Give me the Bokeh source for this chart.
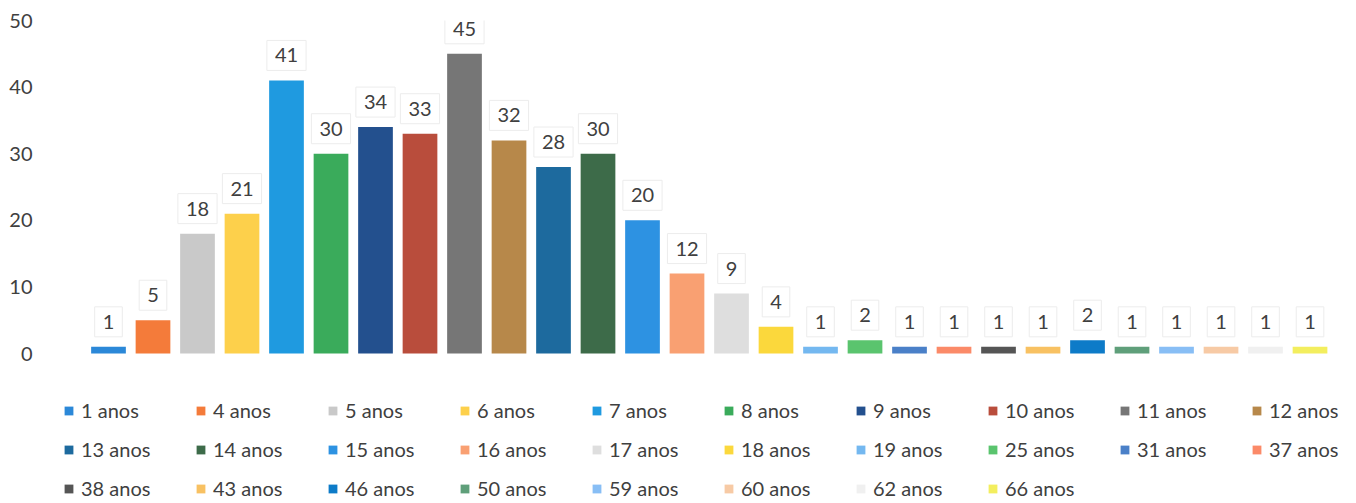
from bokeh.plotting import figure
from bokeh.models import (ColumnDataSource, Legend, LegendItem,
                          Range1d, FixedTicker)
from bokeh.core.properties import value
from bokeh.embed import file_html
from bokeh.resources import INLINE

categories = ["1 anos", "4 anos", "5 anos", "6 anos", "7 anos", "8 anos", "9 anos",
              "10 anos", "11 anos", "12 anos", "13 anos", "14 anos", "15 anos",
              "16 anos", "17 anos", "18 anos", "19 anos", "25 anos", "31 anos",
              "37 anos", "38 anos", "43 anos", "46 anos", "50 anos", "59 anos",
              "60 anos", "62 anos", "66 anos"]
counts = [1, 5, 18, 21, 41, 30, 34, 33, 45, 32, 28, 30, 20, 12, 9, 4, 1, 2,
          1, 1, 1, 1, 2, 1, 1, 1, 1, 1]
colors = ["#2b88d8", "#f47b3a", "#c9c9c9", "#fdd04b", "#1f9ae0", "#3aab5b", "#23508e",
          "#b94d3c", "#767676", "#b7884a", "#1d6a9e", "#3d6b49", "#2d92e2",
          "#f9a072", "#dedede", "#fbd83c", "#74b8f0", "#5ac46e", "#4a80c8",
          "#fb8a68", "#555555", "#f8c162", "#0d7bc8", "#5f9f7a", "#88bef5",
          "#f7caa5", "#f0f0f0", "#f3ee5e"]
y_ticks = [0, 10, 20, 30, 40, 50]

FONT = "Lato"
TXT = "#404040"
FS = "20px"

positions = list(range(len(categories)))
source = ColumnDataSource(dict(pos=positions, cat=categories, val=counts,
                               color=colors, lab=[str(v) for v in counts]))

# frame spans the lower area too, so the legend (drawn inside the frame) is not clipped
p = figure(width=1340, height=500, output_backend="svg", toolbar_location=None,
           x_range=Range1d(-1.528, 27.685), y_range=Range1d(-22.07, 50),
           min_border_left=40, min_border_right=0, min_border_top=20,
           min_border_bottom=0)
p.outline_line_color = None
p.xgrid.visible = False
p.ygrid.visible = False
p.xaxis.visible = False

ya = p.yaxis[0]
ya.ticker = FixedTicker(ticks=y_ticks)
ya.axis_line_color = None
ya.major_tick_line_color = None
ya.minor_tick_line_color = None
ya.major_tick_out = 0
ya.major_tick_in = 0
ya.major_label_standoff = 8
ya.major_label_text_font = FONT
ya.major_label_text_font_size = FS
ya.major_label_text_color = TXT

r = p.vbar(x="pos", top="val", bottom=0, width=0.78, source=source,
           fill_color="color", line_color=None)

p.text(x="pos", y="val", text="lab", source=source, y_offset=-25,
       text_align="center", text_baseline="middle",
       text_font=value(FONT), text_font_size=FS, text_color=TXT,
       background_fill_color="white", border_line_color="#ececec",
       padding=8)

items = [LegendItem(label=c, renderers=[r], index=i) for i, c in enumerate(categories)]
legend = Legend(items=items, location=(23, 0), orientation="horizontal", ncols=10,
                glyph_width=11, glyph_height=11, label_standoff=7,
                label_width=99, label_height=24, spacing=15, padding=0, margin=0,
                border_line_color=None, background_fill_alpha=0,
                label_text_font=FONT, label_text_font_size=FS,
                label_text_color=TXT)
p.add_layout(legend)

open("out.html", "w").write(file_html(p, INLINE))
